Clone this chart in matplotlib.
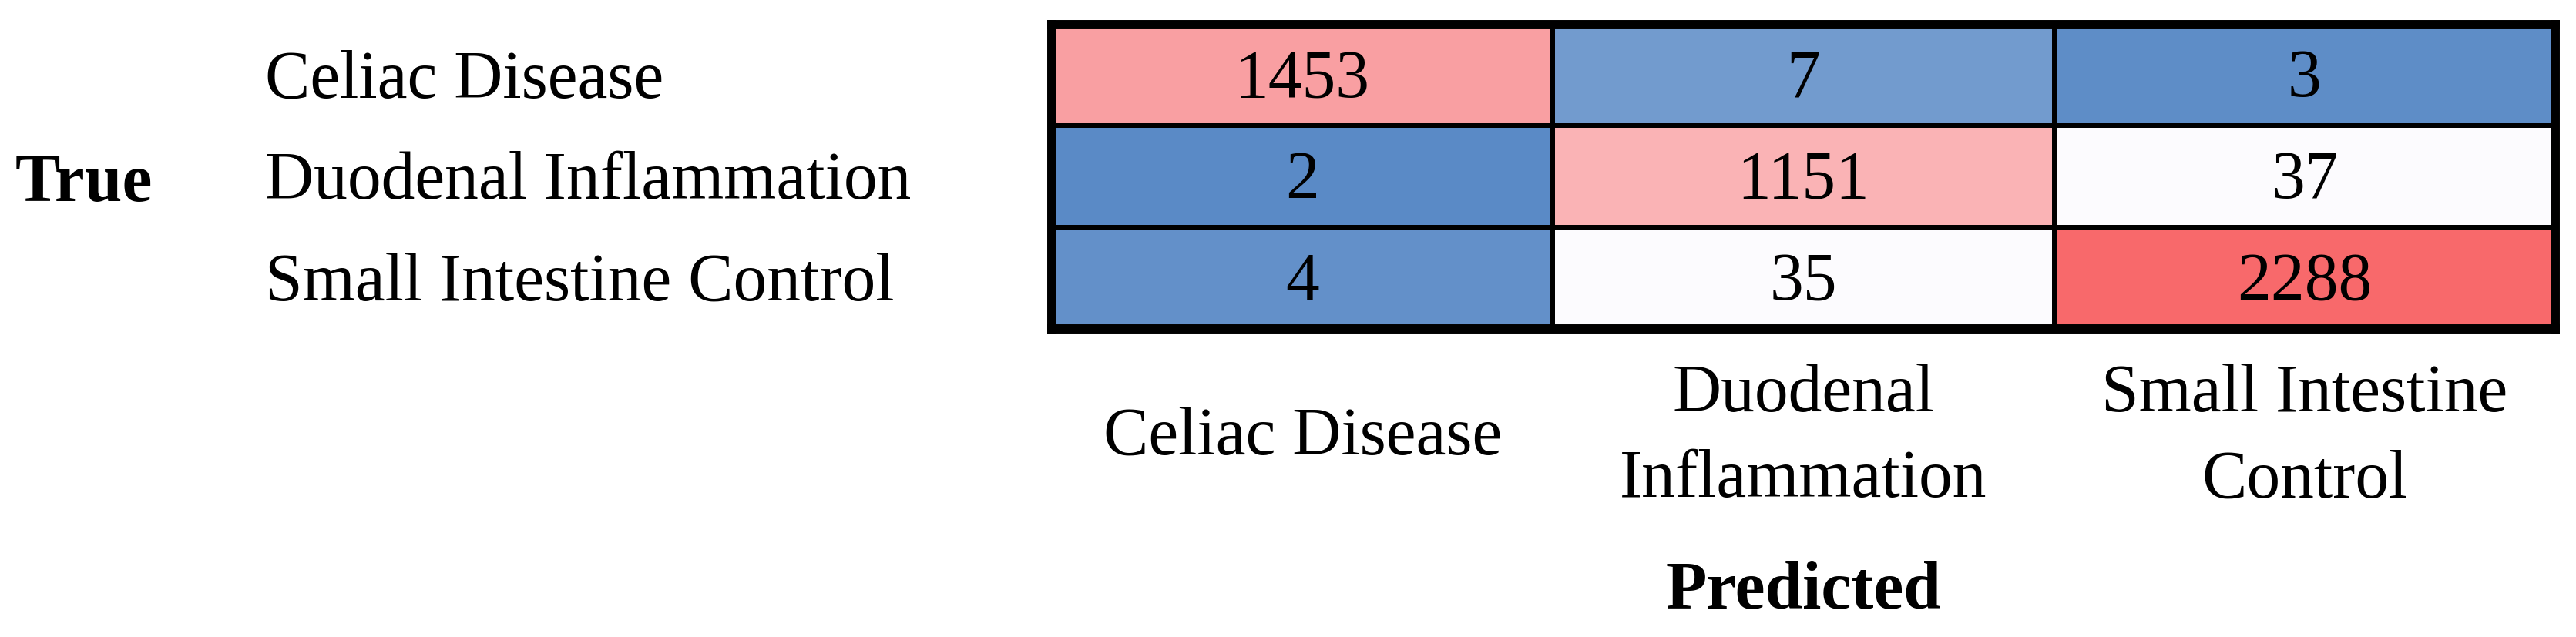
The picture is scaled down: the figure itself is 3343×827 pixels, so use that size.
import numpy as np
import matplotlib
matplotlib.use("Agg")
from matplotlib import pyplot as plt
from matplotlib import transforms
from matplotlib.colors import LinearSegmentedColormap, TwoSlopeNorm

plt.rcParams['font.family'] = ['Liberation Serif', 'DejaVu Serif']

# confusion matrix: rows = true class, columns = predicted class
true_labels = ['Celiac Disease', 'Duodenal Inflammation', 'Small Intestine Control']
pred_labels = ['Celiac Disease', 'Duodenal\nInflammation', 'Small Intestine\nControl']
counts = np.array([[1453, 7, 3],
                   [2, 1151, 37],
                   [4, 35, 2288]])

# Excel style 3 colour scale: min -> blue, median -> white, max -> red
cmap = LinearSegmentedColormap.from_list('excel3', ['#5A8AC6', '#FCFCFF', '#F8696B'])
norm = TwoSlopeNorm(vmin=counts.min(), vcenter=np.median(counts), vmax=counts.max())

W, H = 3343, 828
fig = plt.figure(figsize=(W / 100, H / 100), dpi=100)

# table box in pixels (centre of border lines)
x0, x1 = 1365, 3316
y0, y1 = 32.5, 427.5
ax = fig.add_axes([x0 / W, (H - y1) / H, (x1 - x0) / W, (y1 - y0) / H])

ax.pcolormesh(counts, cmap=cmap, norm=norm, edgecolors='black', linewidth=4.3)
ax.set_xlim(0, 3)
ax.set_ylim(3, 0)
ax.set_xticks([])
ax.set_yticks([])
for sp in ax.spines.values():
    sp.set_linewidth(8.6)
    sp.set_color('black')

fs = 63

for i in range(3):
    for j in range(3):
        ax.text(j + 0.5, i + 0.47, str(counts[i, j]), ha='center', va='center_baseline',
                fontsize=fs, color='black')

# row labels (true)
row_tr = transforms.blended_transform_factory(fig.transFigure, ax.transData)
for i, lab in enumerate(true_labels):
    ax.text(344 / W, i + 0.48, lab, transform=row_tr, ha='left', va='center_baseline',
            fontsize=fs, clip_on=False)
ax.text(20 / W, 1.5, 'True', transform=row_tr, ha='left', va='center_baseline',
        fontsize=fs, fontweight='bold', clip_on=False)

# column labels (predicted)
col_tr = transforms.blended_transform_factory(ax.transData, fig.transFigure)
for j, lab in enumerate(pred_labels):
    ax.text(j + 0.5, (H - 568) / H, lab, transform=col_tr, ha='center', va='center',
            multialignment='center', fontsize=fs, linespacing=1.49, clip_on=False)
ax.text(1.5, (H - 769) / H, 'Predicted', transform=col_tr, ha='center', va='center',
        fontsize=fs, fontweight='bold', clip_on=False)

fig.savefig('out.png', dpi=100, facecolor='white')
